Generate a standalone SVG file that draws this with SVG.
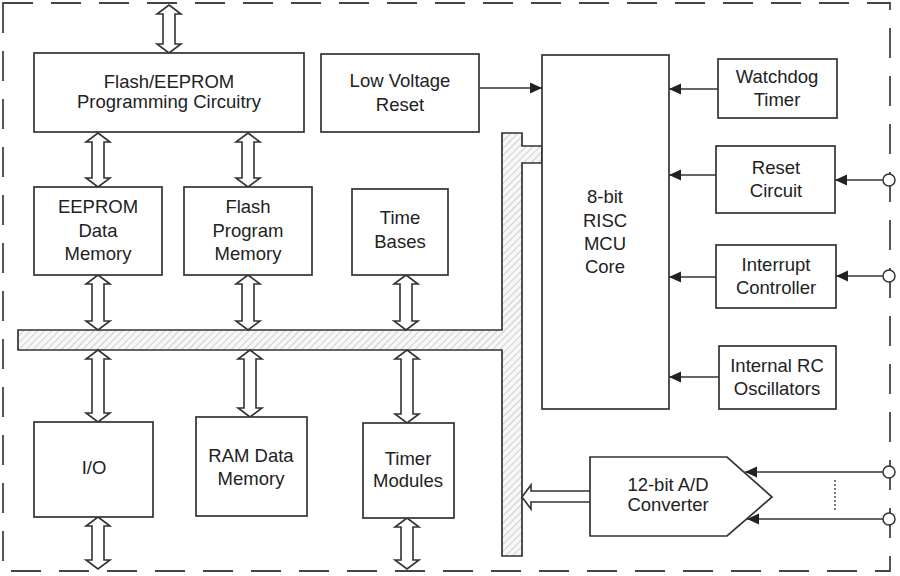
<svg xmlns="http://www.w3.org/2000/svg" width="900" height="576" viewBox="0 0 900 576">
<defs>
<pattern id="hatch" patternUnits="userSpaceOnUse" width="5" height="5" patternTransform="rotate(45)">
<rect width="5" height="5" fill="#f7f7f7"/>
<line x1="0" y1="0" x2="0" y2="5" stroke="#b5b5b5" stroke-width="1.2"/>
</pattern>
<marker id="ah" markerUnits="userSpaceOnUse" markerWidth="13" markerHeight="12" refX="12" refY="6" orient="auto">
<path d="M0,0.5 L12,6 L0,11.5 z" fill="#222"/>
</marker>
</defs>
<style>
.box{fill:#fff;stroke:#333;stroke-width:1.7}
.da{fill:#fff;stroke:#333;stroke-width:1.6;stroke-linejoin:miter}
.ln{fill:none;stroke:#333;stroke-width:1.7}
.pin{fill:#fff;stroke:#333;stroke-width:1.5}
text{font-family:"Liberation Sans",Arial,sans-serif;font-size:18.5px;fill:#222;text-anchor:middle}
</style>
<rect x="3" y="3" width="887" height="568" fill="none" stroke="#444" stroke-width="1.8" stroke-dasharray="30 18"/>

<g id="bus">
<path d="M18,330 L502,330 L502,133 L522,133 L522,146 L542,146 L542,163 L522,163 L522,556 L502,556 L502,350 L18,350 Z" fill="url(#hatch)" stroke="#333" stroke-width="1.7"/>
</g>

<g id="connectors">
<path class="da" d="M169,5 L181,14 L175,14 L175,44 L181,44 L169,53 L157,44 L163,44 L163,14 L157,14 Z"/>
<path class="da" d="M98,133 L110,142 L104,142 L104,178 L110,178 L98,187 L86,178 L92,178 L92,142 L86,142 Z"/>
<path class="da" d="M248,133 L260,142 L254,142 L254,178 L260,178 L248,187 L236,178 L242,178 L242,142 L236,142 Z"/>
<path class="da" d="M98,275 L110,284 L104,284 L104,321 L110,321 L98,330 L86,321 L92,321 L92,284 L86,284 Z"/>
<path class="da" d="M248,275 L260,284 L254,284 L254,321 L260,321 L248,330 L236,321 L242,321 L242,284 L236,284 Z"/>
<path class="da" d="M406,275 L418,284 L412,284 L412,321 L418,321 L406,330 L394,321 L400,321 L400,284 L394,284 Z"/>
<path class="da" d="M98,350 L110,359 L104,359 L104,413 L110,413 L98,422 L86,413 L92,413 L92,359 L86,359 Z"/>
<path class="da" d="M250,350 L262,359 L256,359 L256,408 L262,408 L250,417 L238,408 L244,408 L244,359 L238,359 Z"/>
<path class="da" d="M407,350 L419,359 L413,359 L413,414 L419,414 L407,423 L395,414 L401,414 L401,359 L395,359 Z"/>
<path class="da" d="M98,517 L110,526 L104,526 L104,560 L110,560 L98,569 L86,560 L92,560 L92,526 L86,526 Z"/>
<path class="da" d="M407,518 L419,527 L413,527 L413,560 L419,560 L407,569 L395,560 L401,560 L401,527 L395,527 Z"/>
<path class="da" d="M522,497 L531,485 L531,491 L591,491 L591,502 L531,502 L531,509 Z"/>
<line class="ln" x1="480" y1="88" x2="542" y2="88" marker-end="url(#ah)"/>
<line class="ln" x1="718" y1="89" x2="669" y2="89" marker-end="url(#ah)"/>
<line class="ln" x1="716" y1="175" x2="669" y2="175" marker-end="url(#ah)"/>
<line class="ln" x1="716" y1="277" x2="669" y2="277" marker-end="url(#ah)"/>
<line class="ln" x1="719" y1="377" x2="669" y2="377" marker-end="url(#ah)"/>
<line class="ln" x1="883" y1="180" x2="835" y2="180" marker-end="url(#ah)"/>
<line class="ln" x1="883" y1="276" x2="836" y2="276" marker-end="url(#ah)"/>
<line class="ln" x1="883" y1="472" x2="745" y2="472" marker-end="url(#ah)"/>
<line class="ln" x1="883" y1="519" x2="747" y2="519" marker-end="url(#ah)"/>
<line x1="835" y1="480" x2="835" y2="512" stroke="#333" stroke-width="1.3" stroke-dasharray="2 2"/>
<circle class="pin" cx="889" cy="180" r="6"/>
<circle class="pin" cx="889" cy="276" r="6"/>
<circle class="pin" cx="889" cy="472" r="6"/>
<circle class="pin" cx="889" cy="519" r="6"/>
</g>

<g id="flash-eeprom-prog">
<rect class="box" x="34" y="53" width="270" height="79"/>
<text x="169" y="88">Flash/EEPROM</text>
<text x="169" y="108">Programming Circuitry</text>
</g>
<g id="low-voltage-reset">
<rect class="box" x="321" y="54" width="158" height="78"/>
<text x="400" y="87">Low Voltage</text>
<text x="400" y="111">Reset</text>
</g>
<g id="mcu-core">
<rect class="box" x="542" y="55" width="127" height="354"/>
<text x="605" y="203">8-bit</text>
<text x="605" y="227">RISC</text>
<text x="605" y="250">MCU</text>
<text x="605" y="273">Core</text>
</g>
<g id="watchdog">
<rect class="box" x="718" y="59" width="119" height="59"/>
<text x="777" y="83">Watchdog</text>
<text x="777" y="106">Timer</text>
</g>
<g id="reset-circuit">
<rect class="box" x="716" y="146" width="119" height="67"/>
<text x="776" y="174">Reset</text>
<text x="776" y="197">Circuit</text>
</g>
<g id="interrupt">
<rect class="box" x="716" y="245" width="120" height="63"/>
<text x="776" y="271">Interrupt</text>
<text x="776" y="294">Controller</text>
</g>
<g id="rc-osc">
<rect class="box" x="719" y="346" width="117" height="63"/>
<text x="777" y="372">Internal RC</text>
<text x="777" y="395">Oscillators</text>
</g>
<g id="eeprom-data">
<rect class="box" x="34" y="187" width="128" height="88"/>
<text x="98" y="213">EEPROM</text>
<text x="98" y="237">Data</text>
<text x="98" y="260">Memory</text>
</g>
<g id="flash-program">
<rect class="box" x="184" y="187" width="128" height="88"/>
<text x="248" y="213">Flash</text>
<text x="248" y="237">Program</text>
<text x="248" y="260">Memory</text>
</g>
<g id="time-bases">
<rect class="box" x="352" y="189" width="96" height="86"/>
<text x="400" y="224">Time</text>
<text x="400" y="248">Bases</text>
</g>
<g id="io">
<rect class="box" x="34" y="422" width="119" height="95"/>
<text x="94" y="474">I/O</text>
</g>
<g id="ram">
<rect class="box" x="196" y="417" width="111" height="99"/>
<text x="251" y="462">RAM Data</text>
<text x="251" y="485">Memory</text>
</g>
<g id="timer-modules">
<rect class="box" x="363" y="423" width="91" height="95"/>
<text x="408" y="465">Timer</text>
<text x="408" y="487">Modules</text>
</g>
<g id="adc">
<path class="box" d="M590,457 L727,457 L772,497 L727,536 L590,536 Z"/>
<text x="668" y="491">12-bit A/D</text>
<text x="668" y="511">Converter</text>
</g>
</svg>
